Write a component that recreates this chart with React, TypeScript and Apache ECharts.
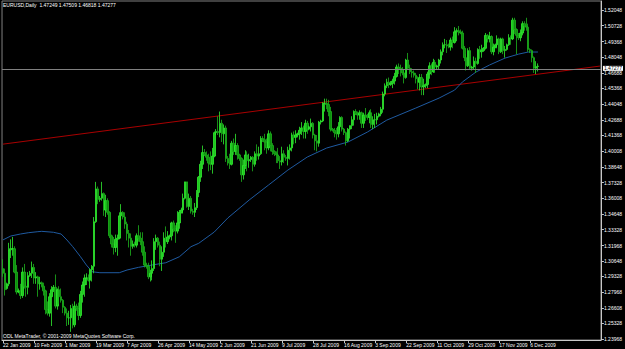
import React, { useEffect, useRef } from "react";
import * as echarts from "echarts";

const TITLE_TEXT = "EURUSD,Daily  1.47249 1.47509 1.46818 1.47277";
const COPYRIGHT_TEXT = "ODL MetaTrader, \u00a9 2001-2009 MetaQuotes Software Corp.";

const X_LABELS = [
  "22 Jan 2009", "10 Feb 2009", "1 Mar 2009", "19 Mar 2009", "7 Apr 2009", "26 Apr 2009",
  "14 May 2009", "2 Jun 2009", "21 Jun 2009", "9 Jul 2009", "28 Jul 2009", "16 Aug 2009",
  "3 Sep 2009", "22 Sep 2009", "11 Oct 2009", "29 Oct 2009", "17 Nov 2009", "6 Dec 2009",
];
const BARS_PER_LABEL = 16;
const TOTAL_SLOTS = 309;

const Y_TICKS = [
  1.23968, 1.25328, 1.26608, 1.27968, 1.29328, 1.30648, 1.31968, 1.33328, 1.34648, 1.36008, 1.37328,
  1.38648, 1.40008, 1.41368, 1.42688, 1.44048, 1.45368, 1.46688, 1.48048, 1.49368, 1.50728, 1.52048,
];
const Y_MIN = 1.23908;
const Y_MAX = 1.52833;
const BID = 1.47277;

const TREND_START: [number, number] = [0, 1.4062];
const TREND_END: [number, number] = [308, 1.4728];

const MA_INDEX = [0, 4, 9, 13, 18, 20, 26, 30, 33, 36, 40, 43, 46, 50, 60, 64, 70, 77, 84, 91, 97, 101, 109, 116, 127, 137, 147, 157, 167, 178, 188, 198, 213, 225, 233, 237, 244, 251, 259, 266, 271, 276];
const MA_VALUE = [1.3245, 1.3278, 1.3295, 1.3306, 1.3315, 1.3318, 1.331, 1.3295, 1.3244, 1.3187, 1.3101, 1.3031, 1.2973, 1.2965, 1.2965, 1.2988, 1.3011, 1.3031, 1.305, 1.3101, 1.3187, 1.3216, 1.3312, 1.3432, 1.3585, 1.3713, 1.3841, 1.3952, 1.4029, 1.408, 1.4165, 1.4267, 1.437, 1.4455, 1.4523, 1.4592, 1.4677, 1.4737, 1.4796, 1.483, 1.4848, 1.4848];

// [open, high, low, close]
const CANDLES_JAN = [
  [1.3, 1.308, 1.293, 1.296], [1.296, 1.3, 1.277, 1.282],
  [1.283, 1.288, 1.282, 1.287], [1.287, 1.322, 1.285, 1.316], [1.316, 1.325, 1.309, 1.317], [1.317, 1.327, 1.311, 1.317], [1.317, 1.319, 1.296, 1.297], [1.297, 1.303, 1.278, 1.28],
];
const CANDLES_FEB = [
  [1.28, 1.283, 1.279, 1.281], [1.281, 1.287, 1.274, 1.277], [1.277, 1.301, 1.275, 1.297], [1.297, 1.304, 1.283, 1.285], [1.285, 1.289, 1.276, 1.284], [1.284, 1.297, 1.278, 1.294],
  [1.294, 1.298, 1.293, 1.296], [1.296, 1.306, 1.292, 1.301], [1.301, 1.304, 1.287, 1.292], [1.292, 1.297, 1.287, 1.293], [1.293, 1.294, 1.276, 1.287], [1.287, 1.293, 1.282, 1.288],
  [1.288, 1.289, 1.284, 1.285], [1.285, 1.288, 1.277, 1.281], [1.281, 1.282, 1.261, 1.265], [1.265, 1.272, 1.26, 1.262], [1.262, 1.279, 1.259, 1.276], [1.276, 1.285, 1.251, 1.282],
  [1.282, 1.286, 1.28, 1.284], [1.284, 1.295, 1.266, 1.268], [1.268, 1.283, 1.265, 1.282], [1.282, 1.285, 1.27, 1.276], [1.276, 1.283, 1.271, 1.273], [1.273, 1.274, 1.262, 1.267],
];
const CANDLES_MAR = [
  [1.267, 1.268, 1.26, 1.262], [1.262, 1.266, 1.251, 1.258], [1.258, 1.264, 1.252, 1.258], [1.258, 1.269, 1.246, 1.266], [1.266, 1.27, 1.249, 1.252], [1.252, 1.272, 1.25, 1.268],
  [1.268, 1.27, 1.264, 1.266], [1.266, 1.271, 1.256, 1.26], [1.26, 1.281, 1.258, 1.278], [1.278, 1.289, 1.271, 1.286], [1.286, 1.295, 1.276, 1.292], [1.292, 1.296, 1.286, 1.292],
  [1.292, 1.295, 1.289, 1.29], [1.29, 1.3, 1.283, 1.299], [1.299, 1.303, 1.289, 1.302], [1.302, 1.344, 1.296, 1.34], [1.34, 1.374, 1.339, 1.368], [1.368, 1.37, 1.355, 1.359],
  [1.359, 1.362, 1.357, 1.36], [1.36, 1.374, 1.358, 1.364], [1.364, 1.365, 1.345, 1.35], [1.35, 1.363, 1.344, 1.358], [1.358, 1.36, 1.346, 1.348], [1.348, 1.349, 1.326, 1.328],
  [1.328, 1.329, 1.318, 1.321], [1.321, 1.327, 1.312, 1.318], [1.318, 1.329, 1.314, 1.325],
];
const CANDLES_APR = [
  [1.325, 1.329, 1.311, 1.326], [1.326, 1.348, 1.325, 1.345], [1.345, 1.355, 1.341, 1.348],
  [1.348, 1.349, 1.342, 1.344], [1.344, 1.348, 1.334, 1.338], [1.338, 1.34, 1.324, 1.33], [1.33, 1.333, 1.318, 1.326], [1.326, 1.33, 1.311, 1.319], [1.319, 1.324, 1.317, 1.321],
  [1.321, 1.323, 1.318, 1.32], [1.32, 1.33, 1.318, 1.328], [1.328, 1.337, 1.323, 1.326], [1.326, 1.331, 1.32, 1.323], [1.323, 1.331, 1.311, 1.314], [1.314, 1.319, 1.301, 1.303],
  [1.303, 1.305, 1.3, 1.302], [1.302, 1.305, 1.291, 1.293], [1.293, 1.299, 1.289, 1.296], [1.296, 1.307, 1.29, 1.3], [1.3, 1.326, 1.298, 1.323], [1.323, 1.329, 1.316, 1.326],
  [1.326, 1.327, 1.318, 1.32], [1.32, 1.323, 1.302, 1.308], [1.308, 1.319, 1.298, 1.314], [1.314, 1.331, 1.31, 1.326], [1.326, 1.336, 1.318, 1.323],
];
const CANDLES_MAY = [
  [1.323, 1.332, 1.321, 1.327],
  [1.327, 1.329, 1.325, 1.328], [1.328, 1.34, 1.324, 1.339], [1.339, 1.341, 1.331, 1.334], [1.334, 1.337, 1.322, 1.332], [1.332, 1.349, 1.33, 1.339], [1.339, 1.35, 1.334, 1.348],
  [1.348, 1.352, 1.347, 1.35], [1.35, 1.364, 1.347, 1.36], [1.36, 1.374, 1.359, 1.374], [1.374, 1.374, 1.352, 1.353], [1.353, 1.364, 1.35, 1.36], [1.36, 1.362, 1.347, 1.349],
  [1.349, 1.351, 1.346, 1.348], [1.348, 1.356, 1.344, 1.352], [1.352, 1.367, 1.35, 1.365], [1.365, 1.379, 1.361, 1.378], [1.378, 1.392, 1.374, 1.389], [1.389, 1.405, 1.385, 1.399],
  [1.399, 1.402, 1.396, 1.397], [1.397, 1.4, 1.392, 1.395], [1.395, 1.398, 1.383, 1.39], [1.39, 1.4, 1.384, 1.389], [1.389, 1.403, 1.381, 1.396], [1.396, 1.417, 1.395, 1.416],
  [1.416, 1.419, 1.414, 1.417],
];
const CANDLES_JUN = [
  [1.417, 1.43, 1.414, 1.416], [1.416, 1.434, 1.412, 1.424], [1.424, 1.427, 1.408, 1.415], [1.415, 1.423, 1.406, 1.42], [1.42, 1.422, 1.391, 1.394],
  [1.394, 1.396, 1.388, 1.39], [1.39, 1.398, 1.385, 1.389], [1.389, 1.409, 1.388, 1.407], [1.407, 1.411, 1.397, 1.4], [1.4, 1.415, 1.397, 1.405], [1.405, 1.407, 1.393, 1.397],
  [1.397, 1.398, 1.392, 1.394], [1.394, 1.395, 1.374, 1.38], [1.38, 1.393, 1.376, 1.388], [1.388, 1.401, 1.385, 1.397], [1.397, 1.4, 1.383, 1.392], [1.392, 1.398, 1.386, 1.393],
  [1.393, 1.396, 1.391, 1.395], [1.395, 1.396, 1.383, 1.389], [1.389, 1.4, 1.387, 1.398], [1.398, 1.406, 1.392, 1.396], [1.396, 1.404, 1.393, 1.398], [1.398, 1.413, 1.397, 1.411],
  [1.411, 1.413, 1.408, 1.41], [1.41, 1.415, 1.401, 1.408], [1.408, 1.411, 1.398, 1.403],
];
const CANDLES_JUL = [
  [1.403, 1.418, 1.401, 1.415], [1.415, 1.417, 1.4, 1.405], [1.405, 1.407, 1.397, 1.4],
  [1.4, 1.401, 1.396, 1.398], [1.398, 1.4, 1.39, 1.397], [1.397, 1.403, 1.39, 1.392], [1.392, 1.396, 1.385, 1.391], [1.391, 1.404, 1.388, 1.398], [1.398, 1.401, 1.39, 1.395],
  [1.395, 1.397, 1.392, 1.394], [1.394, 1.404, 1.388, 1.401], [1.401, 1.406, 1.393, 1.403], [1.403, 1.416, 1.4, 1.414], [1.414, 1.417, 1.406, 1.412], [1.412, 1.418, 1.407, 1.414],
  [1.414, 1.416, 1.412, 1.415], [1.415, 1.421, 1.41, 1.418], [1.418, 1.425, 1.414, 1.42], [1.42, 1.422, 1.411, 1.417], [1.417, 1.427, 1.411, 1.424], [1.424, 1.426, 1.415, 1.419],
  [1.419, 1.422, 1.418, 1.421], [1.421, 1.428, 1.417, 1.424], [1.424, 1.425, 1.411, 1.414], [1.414, 1.415, 1.401, 1.409], [1.409, 1.414, 1.4, 1.407], [1.407, 1.426, 1.404, 1.425],
];
const CANDLES_AUG = [
  [1.425, 1.427, 1.423, 1.426], [1.426, 1.442, 1.425, 1.441], [1.441, 1.445, 1.434, 1.441], [1.441, 1.445, 1.436, 1.44], [1.44, 1.444, 1.43, 1.434], [1.434, 1.438, 1.417, 1.419],
  [1.419, 1.42, 1.417, 1.418], [1.418, 1.42, 1.412, 1.416], [1.416, 1.42, 1.41, 1.415], [1.415, 1.425, 1.412, 1.421], [1.421, 1.43, 1.418, 1.429], [1.429, 1.43, 1.417, 1.419],
  [1.419, 1.42, 1.414, 1.416], [1.416, 1.417, 1.405, 1.409], [1.409, 1.42, 1.408, 1.419], [1.419, 1.422, 1.411, 1.422], [1.422, 1.43, 1.419, 1.427], [1.427, 1.435, 1.422, 1.434],
  [1.434, 1.436, 1.431, 1.432], [1.432, 1.434, 1.427, 1.431], [1.431, 1.435, 1.427, 1.433], [1.433, 1.434, 1.42, 1.424], [1.424, 1.433, 1.42, 1.431], [1.431, 1.437, 1.426, 1.43],
  [1.43, 1.432, 1.427, 1.429], [1.429, 1.435, 1.424, 1.433],
];
const CANDLES_SEP = [
  [1.433, 1.436, 1.42, 1.423], [1.423, 1.43, 1.419, 1.427], [1.427, 1.432, 1.42, 1.427], [1.427, 1.433, 1.423, 1.43],
  [1.43, 1.433, 1.429, 1.432], [1.432, 1.438, 1.43, 1.436], [1.436, 1.451, 1.433, 1.449], [1.449, 1.458, 1.447, 1.456], [1.456, 1.462, 1.454, 1.459], [1.459, 1.463, 1.454, 1.457],
  [1.457, 1.46, 1.456, 1.458], [1.458, 1.462, 1.454, 1.46], [1.46, 1.467, 1.457, 1.464], [1.464, 1.474, 1.463, 1.472], [1.472, 1.475, 1.466, 1.471], [1.471, 1.474, 1.464, 1.47],
  [1.47, 1.472, 1.465, 1.467], [1.467, 1.47, 1.458, 1.463], [1.463, 1.479, 1.462, 1.478], [1.478, 1.484, 1.47, 1.471], [1.471, 1.474, 1.466, 1.468], [1.468, 1.471, 1.463, 1.467],
  [1.467, 1.469, 1.463, 1.465], [1.465, 1.467, 1.458, 1.462], [1.462, 1.464, 1.453, 1.459], [1.459, 1.466, 1.452, 1.463],
];
const CANDLES_OCT = [
  [1.463, 1.466, 1.448, 1.455], [1.455, 1.462, 1.448, 1.456],
  [1.456, 1.458, 1.454, 1.457], [1.457, 1.468, 1.454, 1.466], [1.466, 1.476, 1.462, 1.473], [1.473, 1.475, 1.465, 1.468], [1.468, 1.479, 1.467, 1.476], [1.476, 1.478, 1.467, 1.472],
  [1.472, 1.474, 1.47, 1.473], [1.473, 1.479, 1.47, 1.478], [1.478, 1.487, 1.475, 1.485], [1.485, 1.493, 1.482, 1.491], [1.491, 1.496, 1.488, 1.491], [1.491, 1.495, 1.484, 1.49],
  [1.49, 1.492, 1.488, 1.489], [1.489, 1.497, 1.486, 1.495], [1.495, 1.498, 1.488, 1.493], [1.493, 1.506, 1.492, 1.502], [1.502, 1.505, 1.494, 1.503], [1.503, 1.507, 1.499, 1.502],
  [1.502, 1.504, 1.5, 1.501], [1.501, 1.503, 1.487, 1.488], [1.488, 1.49, 1.477, 1.48], [1.48, 1.483, 1.469, 1.473], [1.473, 1.488, 1.472, 1.486], [1.486, 1.489, 1.47, 1.471],
];
const CANDLES_NOV = [
  [1.471, 1.473, 1.469, 1.472], [1.472, 1.481, 1.47, 1.477], [1.477, 1.48, 1.467, 1.475], [1.475, 1.488, 1.474, 1.487], [1.487, 1.49, 1.479, 1.485], [1.485, 1.491, 1.48, 1.486],
  [1.486, 1.489, 1.485, 1.488], [1.488, 1.501, 1.487, 1.499], [1.499, 1.5, 1.493, 1.496], [1.496, 1.502, 1.493, 1.498], [1.498, 1.499, 1.483, 1.485], [1.485, 1.492, 1.482, 1.489],
  [1.489, 1.492, 1.488, 1.491], [1.491, 1.499, 1.488, 1.496], [1.496, 1.497, 1.483, 1.485], [1.485, 1.497, 1.484, 1.496], [1.496, 1.497, 1.483, 1.486], [1.486, 1.49, 1.48, 1.487],
  [1.487, 1.492, 1.486, 1.491], [1.491, 1.5, 1.49, 1.497], [1.497, 1.499, 1.491, 1.496], [1.496, 1.514, 1.495, 1.512], [1.512, 1.514, 1.5, 1.504], [1.504, 1.505, 1.483, 1.499],
  [1.499, 1.501, 1.495, 1.497], [1.497, 1.504, 1.494, 1.501],
];
const CANDLES_DEC = [
  [1.501, 1.511, 1.499, 1.509], [1.509, 1.511, 1.503, 1.507], [1.507, 1.514, 1.503, 1.506], [1.506, 1.509, 1.485, 1.487],
  [1.487, 1.488, 1.484, 1.486], [1.486, 1.487, 1.476, 1.48], [1.48, 1.481, 1.467, 1.471], [1.471, 1.477, 1.466, 1.4725], [1.47249, 1.47509, 1.46818, 1.47277],
];

const FONT = "Liberation Sans, Arial, sans-serif";

export default function App() {
  const ref = useRef<HTMLDivElement>(null);

  useEffect(() => {
    if (!ref.current) return;
    const chart = echarts.init(ref.current, null, { renderer: "svg" });

    const candles = [
      ...CANDLES_JAN, ...CANDLES_FEB, ...CANDLES_MAR, ...CANDLES_APR, ...CANDLES_MAY, ...CANDLES_JUN,
      ...CANDLES_JUL, ...CANDLES_AUG, ...CANDLES_SEP, ...CANDLES_OCT, ...CANDLES_NOV, ...CANDLES_DEC,
    ];
    const candleData = candles.map(([o, h, l, c]) => [o, c, l, h]);
    const categories = Array.from({ length: TOTAL_SLOTS }, (_, i) => String(i));
    const maData = MA_INDEX.map((idx, k) => [idx, MA_VALUE[k]]);

    const showLabel = (i: number) => i % BARS_PER_LABEL === 0 && i / BARS_PER_LABEL < X_LABELS.length;

    chart.setOption({
      animation: false,
      backgroundColor: "#000000",
      textStyle: { fontFamily: FONT },
      grid: {
        left: 1, top: 1, width: 605, height: 339,
        show: true, borderColor: "#808080", borderWidth: 1, backgroundColor: "transparent",
      },
      xAxis: {
        type: "category",
        data: categories,
        boundaryGap: true,
        axisLine: { show: true, lineStyle: { color: "#c8c8c8", width: 1 } },
        axisTick: {
          show: true, alignWithLabel: true, length: 3,
          interval: (i: number) => showLabel(i),
          lineStyle: { color: "#c8c8c8" },
        },
        axisLabel: {
          interval: (i: number) => showLabel(i),
          formatter: (_v: string, i: number) => X_LABELS[i / BARS_PER_LABEL] ?? "",
          color: "#ffffff", fontSize: 5, align: "left", margin: 2, fontFamily: FONT,
        },
        splitLine: { show: false },
      },
      yAxis: {
        type: "value",
        position: "right",
        min: Y_MIN,
        max: Y_MAX,
        axisLine: { show: true, lineStyle: { color: "#c8c8c8", width: 1 } },
        axisTick: { show: true, customValues: Y_TICKS, length: 3, lineStyle: { color: "#c8c8c8" } },
        axisLabel: {
          customValues: Y_TICKS,
          formatter: (v: number) => v.toFixed(5),
          color: "#ffffff", fontSize: 5, lineHeight: 5, margin: 3, fontFamily: FONT,
        },
        splitLine: { show: false },
      },
      graphic: [
        { type: "text", left: 3, top: 2, style: { text: TITLE_TEXT, fill: "#ffffff", fontSize: 5, fontFamily: FONT } },
        { type: "text", left: 3, top: 333, style: { text: COPYRIGHT_TEXT, fill: "#ffffff", fontSize: 5, fontFamily: FONT } },
      ],
      series: [
        {
          type: "line",
          data: [TREND_START, TREND_END],
          symbol: "none",
          lineStyle: { color: "#a80000", width: 1 },
          z: 1,
          silent: true,
        },
        {
          type: "candlestick",
          data: candleData,
          barWidth: 2,
          itemStyle: {
            color: "#1ec81e",
            color0: "#0d8f0d",
            borderColor: "#30ee30",
            borderColor0: "#1db41d",
            borderWidth: 0.8,
          },
          z: 3,
          markLine: {
            silent: true,
            symbol: "none",
            data: [{ yAxis: BID }],
            lineStyle: { color: "#808080", type: "solid", width: 1 },
            label: {
              show: true, position: "end", formatter: BID.toFixed(5),
              backgroundColor: "#ffffff", color: "#000000", fontSize: 5, lineHeight: 5,
              padding: [0, 1], distance: 2, offset: [0, -1], fontFamily: FONT,
            },
          },
        },
        {
          type: "line",
          data: maData,
          symbol: "none",
          lineStyle: { color: "#1f5aa0", width: 1 },
          z: 2,
          silent: true,
        },
      ],
    });

    return () => chart.dispose();
  }, []);

  return (
    <div
      ref={ref}
      style={{ position: "absolute", left: 0, top: 0, width: 625, height: 349, background: "#000" }}
    />
  );
}
